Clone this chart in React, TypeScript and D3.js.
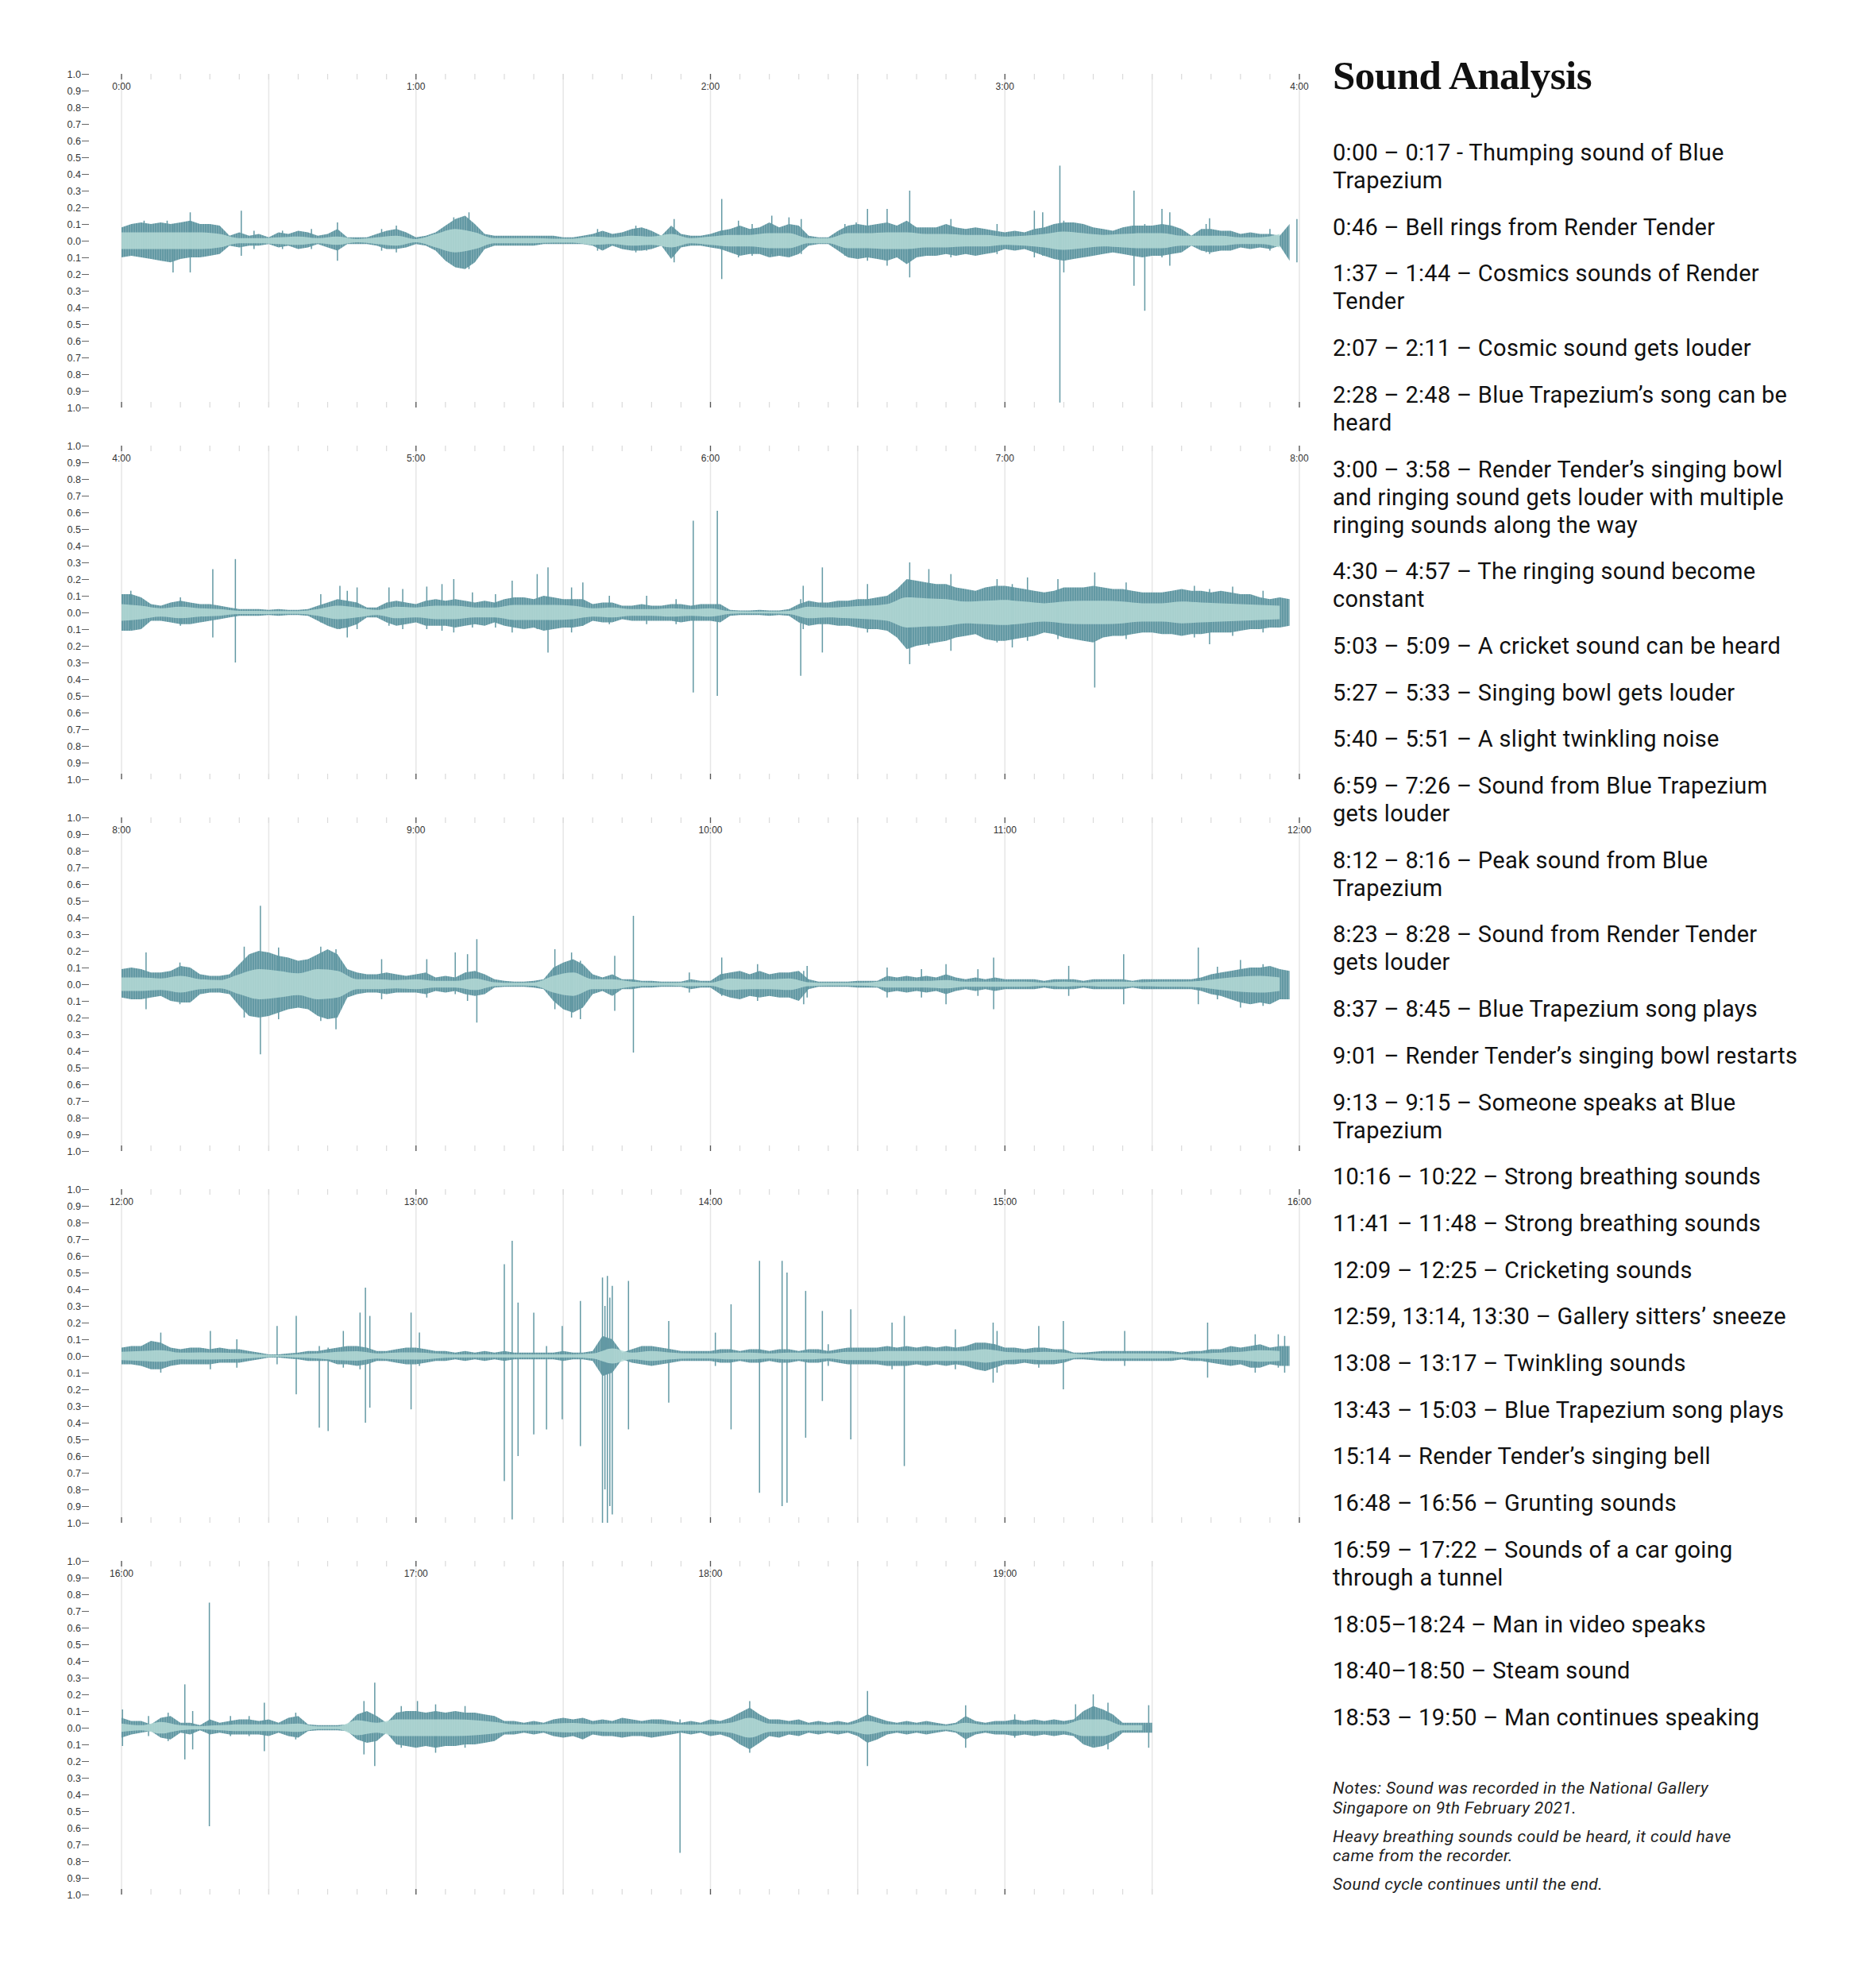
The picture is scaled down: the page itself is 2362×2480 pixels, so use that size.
import React, { useEffect, useRef } from "react";
import * as d3 from "d3";

// Waveform envelopes, one value per 2 s bin (peaks) or 4 s bin (rms)
const PEAK_STEP = 2;
const RMS_STEP = 4;

// 0:00 - 4:00
const p1Up = [
  0.08, 0.1, 0.11, 0.1, 0.11, 0.1, 0.11, 0.12, 0.1, 0.1, 0.09, 0.03, 0.05, 0.03, 0.04,
  0.02, 0.05, 0.04, 0.06, 0.05, 0.03, 0.04, 0.07, 0.02, 0.02, 0.02, 0.04, 0.06, 0.07, 0.05,
  0.02, 0.03, 0.05, 0.09, 0.13, 0.15, 0.1, 0.04, 0.03, 0.03, 0.03, 0.03, 0.03, 0.03, 0.03,
  0.02, 0.02, 0.03, 0.04, 0.06, 0.04, 0.05, 0.07, 0.08, 0.06, 0.03, 0.09, 0.04, 0.03, 0.03,
  0.04, 0.06, 0.07, 0.09, 0.07, 0.08, 0.11, 0.08, 0.1, 0.09, 0.03, 0.02, 0.02, 0.06, 0.09,
  0.1, 0.09, 0.1, 0.11, 0.09, 0.12, 0.08, 0.08, 0.08, 0.1, 0.08, 0.07, 0.08, 0.07, 0.06,
  0.05, 0.06, 0.05, 0.07, 0.08, 0.1, 0.11, 0.11, 0.1, 0.08, 0.07, 0.06, 0.08, 0.09, 0.09,
  0.09, 0.1, 0.09, 0.07, 0.03, 0.07, 0.07, 0.06, 0.06, 0.04, 0.05, 0.04, 0.04, 0.03, 0.1,
];
const p1Dn = [
  0.1, 0.09, 0.1, 0.11, 0.12, 0.13, 0.11, 0.1, 0.1, 0.09, 0.08, 0.03, 0.04, 0.03, 0.03,
  0.02, 0.04, 0.03, 0.05, 0.04, 0.02, 0.04, 0.06, 0.02, 0.02, 0.02, 0.03, 0.05, 0.05, 0.04,
  0.02, 0.03, 0.06, 0.12, 0.16, 0.17, 0.13, 0.05, 0.03, 0.03, 0.03, 0.03, 0.03, 0.02, 0.02,
  0.02, 0.02, 0.02, 0.03, 0.06, 0.03, 0.05, 0.06, 0.06, 0.05, 0.03, 0.11, 0.04, 0.03, 0.03,
  0.04, 0.05, 0.07, 0.09, 0.08, 0.08, 0.1, 0.09, 0.1, 0.08, 0.03, 0.02, 0.02, 0.06, 0.1,
  0.11, 0.1, 0.11, 0.12, 0.1, 0.14, 0.1, 0.09, 0.09, 0.08, 0.09, 0.08, 0.09, 0.08, 0.07,
  0.05, 0.06, 0.05, 0.07, 0.09, 0.11, 0.12, 0.11, 0.1, 0.09, 0.08, 0.07, 0.08, 0.09, 0.1,
  0.09, 0.09, 0.08, 0.07, 0.03, 0.06, 0.07, 0.06, 0.06, 0.04, 0.05, 0.04, 0.05, 0.03, 0.12,
];
const p1Rms = [
  0.05, 0.05, 0.05, 0.05, 0.05, 0.04, 0.015, 0.015, 0.02, 0.025, 0.015, 0.025, 0.01, 0.02, 0.03,
  0.01, 0.04, 0.07, 0.05, 0.015, 0.015, 0.015, 0.012, 0.012, 0.025, 0.02, 0.03, 0.025, 0.04, 0.015,
  0.025, 0.035, 0.035, 0.045, 0.045, 0.015, 0.015, 0.045, 0.045, 0.05, 0.05, 0.04, 0.04, 0.035, 0.035,
  0.025, 0.03, 0.04, 0.055, 0.045, 0.035, 0.04, 0.045, 0.045, 0.03, 0.03, 0.03, 0.02, 0.02, 0.04,
];
// isolated peaks poking out of the envelope: [seconds, up, down]
const p1Spikes = [
  [4.6, 0.12, 0.1], [9.3, 0.12, 0.11], [10.5, 0.1, 0.19], [14, 0.17, 0.19],
  [24.4, 0.18, 0.09], [27, 0.06, 0.05], [32.8, 0.06, 0.05], [38.7, 0.07, 0.05],
  [44, 0.11, 0.12], [53, 0.07, 0.06], [56, 0.09, 0.07], [67.7, 0.14, 0.12],
  [70.8, 0.17, 0.17], [97, 0.07, 0.06], [104.8, 0.09, 0.07], [107, 0.07, 0.06],
  [112.6, 0.13, 0.13], [122.3, 0.25, 0.23], [125.7, 0.12, 0.1], [128.5, 0.1, 0.09],
  [132.5, 0.15, 0.08], [136, 0.14, 0.09], [138.5, 0.13, 0.08], [147.4, 0.1, 0.09],
  [149.7, 0.11, 0.1], [152, 0.19, 0.12], [156, 0.19, 0.15], [160.6, 0.3, 0.22],
  [169, 0.13, 0.1], [178.4, 0.1, 0.08], [186, 0.18, 0.1], [187.7, 0.17, 0.09],
  [191.2, 0.45, 0.97], [192, 0.12, 0.19], [206.3, 0.3, 0.27], [208.5, 0.1, 0.42],
  [212, 0.19, 0.1], [213.6, 0.17, 0.15], [221, 0.1, 0.07], [221.7, 0.135, 0.08],
  [234, 0.07, 0.06], [239.5, 0.13, 0.13],
];

// 4:00 - 8:00
const p2Up = [
  0.11, 0.11, 0.09, 0.05, 0.04, 0.06, 0.07, 0.06, 0.05, 0.05, 0.04, 0.03, 0.02, 0.02, 0.02,
  0.015, 0.02, 0.015, 0.015, 0.02, 0.04, 0.06, 0.08, 0.07, 0.06, 0.03, 0.03, 0.06, 0.07, 0.06,
  0.05, 0.07, 0.08, 0.07, 0.08, 0.07, 0.06, 0.07, 0.06, 0.08, 0.09, 0.09, 0.08, 0.1, 0.09,
  0.08, 0.08, 0.08, 0.05, 0.06, 0.06, 0.04, 0.04, 0.05, 0.04, 0.04, 0.05, 0.05, 0.04, 0.05,
  0.05, 0.05, 0.015, 0.012, 0.012, 0.015, 0.012, 0.012, 0.02, 0.05, 0.07, 0.06, 0.06, 0.07, 0.07,
  0.08, 0.08, 0.09, 0.1, 0.14, 0.2, 0.19, 0.18, 0.17, 0.17, 0.15, 0.14, 0.13, 0.15, 0.16,
  0.16, 0.15, 0.14, 0.13, 0.12, 0.13, 0.15, 0.15, 0.15, 0.16, 0.15, 0.14, 0.14, 0.13, 0.12,
  0.12, 0.12, 0.13, 0.14, 0.13, 0.13, 0.12, 0.13, 0.12, 0.11, 0.11, 0.09, 0.08, 0.09, 0.08,
];
const p2Dn = [
  0.11, 0.11, 0.1, 0.05, 0.05, 0.06, 0.07, 0.07, 0.06, 0.05, 0.04, 0.03, 0.02, 0.02, 0.02,
  0.015, 0.02, 0.015, 0.015, 0.02, 0.05, 0.08, 0.1, 0.09, 0.07, 0.03, 0.03, 0.06, 0.08, 0.07,
  0.06, 0.08, 0.08, 0.08, 0.09, 0.08, 0.07, 0.08, 0.06, 0.08, 0.09, 0.1, 0.09, 0.11, 0.1,
  0.09, 0.09, 0.08, 0.05, 0.06, 0.06, 0.04, 0.05, 0.05, 0.05, 0.05, 0.05, 0.06, 0.05, 0.05,
  0.05, 0.06, 0.02, 0.015, 0.015, 0.015, 0.02, 0.015, 0.02, 0.06, 0.08, 0.07, 0.07, 0.08, 0.08,
  0.09, 0.1, 0.1, 0.11, 0.15, 0.22, 0.2, 0.19, 0.18, 0.17, 0.15, 0.14, 0.13, 0.16, 0.17,
  0.17, 0.16, 0.15, 0.14, 0.12, 0.13, 0.15, 0.16, 0.17, 0.18, 0.15, 0.14, 0.14, 0.13, 0.12,
  0.12, 0.13, 0.13, 0.14, 0.13, 0.13, 0.12, 0.12, 0.12, 0.11, 0.1, 0.1, 0.09, 0.09, 0.08,
];
const p2Rms = [
  0.05, 0.04, 0.025, 0.035, 0.025, 0.02, 0.01, 0.01, 0.008, 0.008, 0.02, 0.04, 0.03, 0.015, 0.035,
  0.03, 0.04, 0.04, 0.03, 0.03, 0.045, 0.045, 0.045, 0.04, 0.025, 0.03, 0.02, 0.02, 0.025, 0.02,
  0.025, 0.008, 0.006, 0.006, 0.01, 0.035, 0.03, 0.035, 0.04, 0.05, 0.09, 0.085, 0.08, 0.065, 0.07,
  0.075, 0.065, 0.055, 0.065, 0.07, 0.07, 0.065, 0.055, 0.055, 0.065, 0.06, 0.055, 0.05, 0.045, 0.04,
];
const p2Spikes = [
  [1.9, 0.13, 0.1], [12, 0.09, 0.08], [18.6, 0.26, 0.15], [23.2, 0.32, 0.3],
  [40.6, 0.11, 0.06], [44.5, 0.16, 0.1], [46, 0.13, 0.15], [48, 0.15, 0.1],
  [54.5, 0.15, 0.08], [57.3, 0.14, 0.1], [62.2, 0.155, 0.1], [65.3, 0.17, 0.11],
  [67.7, 0.2, 0.12], [71.5, 0.12, 0.09], [76.2, 0.11, 0.09], [79.6, 0.19, 0.12],
  [84.7, 0.23, 0.1], [86.9, 0.27, 0.24], [91.7, 0.15, 0.12], [94, 0.18, 0.08],
  [99.4, 0.1, 0.07], [107, 0.1, 0.07], [113, 0.08, 0.07], [116.5, 0.55, 0.48],
  [121.4, 0.61, 0.5], [138.4, 0.08, 0.38], [138.9, 0.16, 0.1], [142.8, 0.27, 0.24],
  [152, 0.17, 0.12], [160.6, 0.3, 0.31], [164.5, 0.26, 0.2], [169, 0.23, 0.23],
  [178.4, 0.2, 0.18], [181.5, 0.17, 0.21], [184.6, 0.21, 0.17], [190.8, 0.2, 0.16],
  [198.3, 0.24, 0.45], [204.7, 0.18, 0.16], [218.6, 0.16, 0.15], [221.7, 0.14, 0.19],
  [226.4, 0.155, 0.14], [232.6, 0.13, 0.12],
];

// 8:00 - 12:00
const p3Up = [
  0.09, 0.1, 0.09, 0.07, 0.07, 0.08, 0.11, 0.1, 0.06, 0.05, 0.05, 0.06, 0.12, 0.18, 0.2,
  0.19, 0.17, 0.16, 0.14, 0.15, 0.18, 0.21, 0.18, 0.09, 0.07, 0.06, 0.06, 0.07, 0.06, 0.05,
  0.06, 0.07, 0.04, 0.05, 0.04, 0.07, 0.08, 0.06, 0.03, 0.02, 0.015, 0.015, 0.02, 0.03, 0.1,
  0.13, 0.15, 0.12, 0.06, 0.04, 0.06, 0.03, 0.03, 0.02, 0.02, 0.015, 0.015, 0.015, 0.03, 0.02,
  0.02, 0.06, 0.07, 0.08, 0.06, 0.08, 0.06, 0.07, 0.07, 0.08, 0.03, 0.015, 0.015, 0.015, 0.015,
  0.02, 0.02, 0.02, 0.05, 0.04, 0.05, 0.04, 0.05, 0.04, 0.06, 0.04, 0.03, 0.04, 0.03, 0.04,
  0.03, 0.03, 0.03, 0.03, 0.02, 0.03, 0.03, 0.03, 0.02, 0.03, 0.03, 0.03, 0.03, 0.02, 0.03,
  0.03, 0.03, 0.03, 0.03, 0.03, 0.04, 0.06, 0.07, 0.08, 0.09, 0.1, 0.1, 0.11, 0.09, 0.08,
];
const p3Dn = [
  0.08, 0.09, 0.09, 0.08, 0.07, 0.1, 0.11, 0.11, 0.06, 0.05, 0.05, 0.06, 0.13, 0.19, 0.2,
  0.19, 0.17, 0.15, 0.14, 0.15, 0.19, 0.21, 0.2, 0.08, 0.06, 0.05, 0.05, 0.06, 0.05, 0.05,
  0.05, 0.06, 0.04, 0.05, 0.04, 0.06, 0.07, 0.06, 0.02, 0.015, 0.015, 0.015, 0.02, 0.03, 0.1,
  0.15, 0.17, 0.14, 0.06, 0.04, 0.07, 0.03, 0.03, 0.02, 0.02, 0.015, 0.015, 0.015, 0.03, 0.02,
  0.02, 0.06, 0.08, 0.09, 0.07, 0.08, 0.07, 0.08, 0.08, 0.1, 0.03, 0.015, 0.015, 0.015, 0.015,
  0.02, 0.02, 0.02, 0.05, 0.04, 0.05, 0.04, 0.05, 0.04, 0.06, 0.04, 0.03, 0.04, 0.03, 0.04,
  0.03, 0.03, 0.03, 0.03, 0.02, 0.03, 0.03, 0.03, 0.02, 0.03, 0.03, 0.03, 0.03, 0.02, 0.03,
  0.03, 0.03, 0.03, 0.03, 0.03, 0.04, 0.06, 0.07, 0.09, 0.11, 0.12, 0.11, 0.12, 0.09, 0.09,
];
const p3Rms = [
  0.04, 0.04, 0.035, 0.05, 0.03, 0.025, 0.06, 0.09, 0.08, 0.065, 0.09, 0.08, 0.03, 0.03, 0.025,
  0.03, 0.02, 0.02, 0.035, 0.012, 0.008, 0.01, 0.05, 0.07, 0.03, 0.03, 0.015, 0.01, 0.008, 0.012,
  0.01, 0.035, 0.03, 0.03, 0.035, 0.012, 0.008, 0.008, 0.01, 0.02, 0.02, 0.02, 0.025, 0.015, 0.015,
  0.015, 0.015, 0.01, 0.015, 0.01, 0.015, 0.015, 0.012, 0.015, 0.015, 0.02, 0.035, 0.045, 0.05, 0.04,
];
const p3Spikes = [
  [5, 0.19, 0.15], [11.9, 0.13, 0.12], [25, 0.225, 0.2], [28.3, 0.47, 0.42],
  [32, 0.22, 0.21], [40.6, 0.225, 0.22], [43.7, 0.21, 0.27], [53, 0.15, 0.09],
  [62.2, 0.15, 0.08], [68, 0.19, 0.06], [70.5, 0.18, 0.1], [72.4, 0.27, 0.23],
  [88.3, 0.21, 0.15], [91.7, 0.19, 0.2], [93.5, 0.14, 0.21], [100.5, 0.17, 0.16],
  [104.3, 0.41, 0.41], [115.7, 0.07, 0.05], [122.3, 0.16, 0.07], [129.6, 0.12, 0.1],
  [139, 0.08, 0.12], [139.7, 0.11, 0.08], [156, 0.1, 0.08], [163, 0.09, 0.08],
  [168, 0.12, 0.12], [174.5, 0.09, 0.07], [177.7, 0.16, 0.15], [193, 0.11, 0.07],
  [204.2, 0.18, 0.12], [219.4, 0.22, 0.12], [223.3, 0.105, 0.09], [228, 0.145, 0.14],
  [232.6, 0.12, 0.13],
];

// 12:00 - 16:00
const p4Up = [
  0.05, 0.06, 0.06, 0.09, 0.08, 0.05, 0.04, 0.05, 0.05, 0.04, 0.05, 0.04, 0.04, 0.03, 0.02,
  0.01, 0.01, 0.015, 0.02, 0.03, 0.03, 0.04, 0.05, 0.06, 0.06, 0.05, 0.03, 0.03, 0.04, 0.05,
  0.05, 0.04, 0.03, 0.03, 0.02, 0.03, 0.02, 0.03, 0.02, 0.03, 0.02, 0.02, 0.02, 0.02, 0.02,
  0.03, 0.02, 0.02, 0.03, 0.12, 0.1, 0.02, 0.04, 0.06, 0.06, 0.05, 0.04, 0.03, 0.03, 0.03,
  0.03, 0.04, 0.04, 0.03, 0.04, 0.04, 0.03, 0.04, 0.04, 0.03, 0.04, 0.04, 0.03, 0.04, 0.05,
  0.05, 0.05, 0.05, 0.06, 0.05, 0.06, 0.05, 0.06, 0.05, 0.06, 0.05, 0.06, 0.08, 0.08, 0.07,
  0.05, 0.05, 0.04, 0.05, 0.05, 0.04, 0.04, 0.02, 0.02, 0.025, 0.03, 0.03, 0.03, 0.03, 0.03,
  0.03, 0.03, 0.03, 0.02, 0.03, 0.03, 0.04, 0.04, 0.06, 0.05, 0.06, 0.07, 0.05, 0.06, 0.06,
];
const p4Dn = [
  0.05, 0.05, 0.06, 0.08, 0.08, 0.06, 0.05, 0.05, 0.05, 0.05, 0.04, 0.04, 0.04, 0.03, 0.02,
  0.01, 0.01, 0.015, 0.02, 0.03, 0.03, 0.03, 0.05, 0.05, 0.06, 0.05, 0.03, 0.03, 0.04, 0.05,
  0.05, 0.04, 0.03, 0.03, 0.02, 0.03, 0.02, 0.03, 0.02, 0.03, 0.02, 0.02, 0.02, 0.02, 0.02,
  0.03, 0.02, 0.02, 0.03, 0.12, 0.1, 0.02, 0.04, 0.05, 0.06, 0.05, 0.04, 0.03, 0.03, 0.03,
  0.03, 0.04, 0.04, 0.03, 0.04, 0.04, 0.03, 0.04, 0.04, 0.03, 0.04, 0.04, 0.03, 0.04, 0.05,
  0.05, 0.05, 0.05, 0.06, 0.06, 0.06, 0.05, 0.06, 0.05, 0.06, 0.05, 0.06, 0.08, 0.09, 0.07,
  0.05, 0.05, 0.04, 0.05, 0.05, 0.05, 0.04, 0.02, 0.02, 0.025, 0.03, 0.03, 0.03, 0.03, 0.03,
  0.03, 0.03, 0.03, 0.02, 0.03, 0.03, 0.04, 0.05, 0.06, 0.05, 0.07, 0.07, 0.05, 0.06, 0.06,
];
const p4Rms = [
  0.025, 0.03, 0.035, 0.02, 0.022, 0.02, 0.018, 0.01, 0.005, 0.01, 0.015, 0.025, 0.028, 0.015, 0.02,
  0.022, 0.015, 0.01, 0.01, 0.01, 0.01, 0.01, 0.01, 0.01, 0.015, 0.045, 0.02, 0.03, 0.02, 0.015,
  0.015, 0.02, 0.02, 0.015, 0.02, 0.02, 0.015, 0.025, 0.025, 0.03, 0.03, 0.03, 0.03, 0.03, 0.04,
  0.025, 0.02, 0.025, 0.02, 0.01, 0.015, 0.015, 0.015, 0.015, 0.01, 0.015, 0.02, 0.025, 0.035, 0.03,
];
const p4Spikes = [
  [8, 0.14, 0.1], [18.1, 0.15, 0.08], [23.5, 0.1, 0.07], [31.7, 0.18, 0.05],
  [35.6, 0.24, 0.23], [40.3, 0.06, 0.43], [42.1, 0.05, 0.45], [45.2, 0.15, 0.07],
  [48.6, 0.26, 0.08], [49.7, 0.41, 0.4], [50.6, 0.24, 0.31], [59, 0.26, 0.32],
  [60.7, 0.14, 0.06], [78, 0.55, 0.75], [79.6, 0.69, 0.98], [80.8, 0.32, 0.6],
  [84, 0.26, 0.47], [86.6, 0.06, 0.44], [89.8, 0.18, 0.38], [93.5, 0.33, 0.54],
  [98, 0.47, 1.0], [98.5, 0.3, 0.8], [99, 0.48, 1.0], [99.5, 0.35, 0.9],
  [100, 0.42, 0.95], [103.3, 0.45, 0.44], [111.5, 0.21, 0.28], [121, 0.14, 0.06],
  [124.2, 0.31, 0.44], [130, 0.57, 0.82], [134.6, 0.57, 0.9], [135.6, 0.5, 0.88],
  [139.4, 0.39, 0.49], [142.8, 0.27, 0.27], [144, 0.07, 0.06], [148.6, 0.28, 0.5],
  [157, 0.2, 0.08], [159.5, 0.24, 0.66], [169.9, 0.16, 0.08], [177.6, 0.2, 0.16],
  [178.4, 0.15, 0.1], [186.9, 0.18, 0.07], [191.9, 0.21, 0.2], [204.4, 0.15, 0.06],
  [221.3, 0.2, 0.13], [231, 0.13, 0.1], [235.7, 0.13, 0.07], [237, 0.12, 0.1],
];

// 16:00 - 19:31
const p5Up = [
  0.06, 0.04, 0.04, 0.02, 0.06, 0.07, 0.03, 0.03, 0.015, 0.05, 0.03, 0.04, 0.05, 0.05, 0.04,
  0.05, 0.03, 0.06, 0.07, 0.02, 0.015, 0.015, 0.015, 0.02, 0.08, 0.1, 0.07, 0.03, 0.09, 0.1,
  0.1, 0.09, 0.1, 0.09, 0.1, 0.09, 0.09, 0.08, 0.07, 0.04, 0.04, 0.03, 0.04, 0.03, 0.05,
  0.06, 0.05, 0.06, 0.04, 0.05, 0.04, 0.06, 0.05, 0.04, 0.05, 0.05, 0.04, 0.03, 0.04, 0.03,
  0.05, 0.04, 0.06, 0.09, 0.12, 0.08, 0.05, 0.05, 0.04, 0.05, 0.03, 0.04, 0.03, 0.04, 0.03,
  0.05, 0.08, 0.06, 0.04, 0.03, 0.04, 0.03, 0.04, 0.03, 0.02, 0.03, 0.07, 0.04, 0.03, 0.04,
  0.04, 0.05, 0.04, 0.05, 0.04, 0.05, 0.04, 0.05, 0.1, 0.13, 0.11, 0.08, 0.03, 0.03, 0.03, 0.03,
];
const p5Dn = [
  0.06, 0.04, 0.03, 0.02, 0.06, 0.07, 0.03, 0.04, 0.015, 0.04, 0.03, 0.04, 0.04, 0.04, 0.04,
  0.05, 0.03, 0.05, 0.06, 0.02, 0.015, 0.015, 0.015, 0.02, 0.07, 0.09, 0.08, 0.03, 0.1, 0.11,
  0.12, 0.11, 0.12, 0.11, 0.11, 0.1, 0.1, 0.09, 0.08, 0.04, 0.04, 0.03, 0.04, 0.03, 0.05,
  0.06, 0.05, 0.07, 0.04, 0.05, 0.05, 0.06, 0.05, 0.05, 0.06, 0.05, 0.04, 0.03, 0.04, 0.03,
  0.05, 0.04, 0.06, 0.1, 0.13, 0.09, 0.05, 0.06, 0.04, 0.05, 0.03, 0.04, 0.03, 0.04, 0.03,
  0.05, 0.09, 0.07, 0.04, 0.03, 0.04, 0.03, 0.04, 0.03, 0.02, 0.03, 0.07, 0.04, 0.03, 0.04,
  0.04, 0.05, 0.04, 0.05, 0.04, 0.05, 0.04, 0.05, 0.1, 0.12, 0.11, 0.08, 0.03, 0.03, 0.03, 0.03,
];
const p5Rms = [
  0.025, 0.015, 0.035, 0.015, 0.01, 0.015, 0.02, 0.02, 0.02, 0.025, 0.008, 0.008, 0.045, 0.03, 0.05,
  0.05, 0.05, 0.05, 0.045, 0.035, 0.02, 0.018, 0.025, 0.028, 0.022, 0.025, 0.025, 0.025, 0.02, 0.018,
  0.022, 0.03, 0.06, 0.025, 0.022, 0.018, 0.018, 0.018, 0.04, 0.02, 0.018, 0.018, 0.012, 0.03, 0.018,
  0.02, 0.02, 0.02, 0.02, 0.05, 0.05, 0.015, 0.015,
];
const p5Spikes = [
  [0.2, 0.11, 0.11], [5.5, 0.07, 0.05], [9.5, 0.09, 0.08], [12.9, 0.26, 0.19],
  [14.5, 0.1, 0.13], [17.9, 0.75, 0.59], [22.2, 0.07, 0.05], [26, 0.07, 0.05],
  [29.1, 0.15, 0.14], [35.5, 0.09, 0.07], [49.4, 0.16, 0.16], [51.6, 0.27, 0.23],
  [57, 0.13, 0.12], [60.3, 0.16, 0.08], [64, 0.14, 0.15], [70, 0.13, 0.12],
  [113.8, 0.05, 0.75], [128, 0.16, 0.15], [152, 0.22, 0.23], [172, 0.135, 0.12],
  [182, 0.08, 0.06], [194.4, 0.14, 0.06], [198, 0.2, 0.1], [201, 0.15, 0.13],
  [209.3, 0.135, 0.12],
];

// start minute and length (s) of each row
const panelStartMin = [0, 4, 8, 12, 16];
const panelLength = [240, 240, 240, 240, 211];

const yTicks = [
  -1, -0.9, -0.8, -0.7, -0.6, -0.5, -0.4, -0.3, -0.2, -0.1, 0,
  0.1, 0.2, 0.3, 0.4, 0.5, 0.6, 0.7, 0.8, 0.9, 1,
];

const notesTitle = "Sound Analysis";
const events = [
  ["0:00 \u2013 0:17 - Thumping sound of Blue", "Trapezium"],
  ["0:46 \u2013 Bell rings from Render Tender"],
  ["1:37 \u2013 1:44 \u2013 Cosmics sounds of Render", "Tender"],
  ["2:07 \u2013 2:11 \u2013 Cosmic sound gets louder"],
  ["2:28 \u2013 2:48 \u2013 Blue Trapezium\u2019s song can be", "heard"],
  [
    "3:00 \u2013 3:58 \u2013 Render Tender\u2019s singing bowl",
    "and ringing sound gets louder with multiple",
    "ringing sounds along the way",
  ],
  ["4:30 \u2013 4:57 \u2013 The ringing sound become", "constant"],
  ["5:03 \u2013 5:09 \u2013 A cricket sound can be heard"],
  ["5:27 \u2013 5:33 \u2013 Singing bowl gets louder"],
  ["5:40 \u2013 5:51 \u2013 A slight twinkling noise"],
  ["6:59 \u2013 7:26 \u2013 Sound from Blue Trapezium", "gets louder"],
  ["8:12 \u2013 8:16 \u2013 Peak sound from Blue", "Trapezium"],
  ["8:23 \u2013 8:28 \u2013 Sound from Render Tender", "gets louder"],
  ["8:37 \u2013 8:45 \u2013 Blue Trapezium song plays"],
  ["9:01 \u2013 Render Tender\u2019s singing bowl restarts"],
  ["9:13 \u2013 9:15 \u2013 Someone speaks at Blue", "Trapezium"],
  ["10:16 \u2013 10:22 \u2013 Strong breathing sounds"],
  ["11:41 \u2013 11:48 \u2013 Strong breathing sounds"],
  ["12:09 \u2013 12:25 \u2013 Cricketing sounds"],
  ["12:59, 13:14, 13:30 \u2013 Gallery sitters\u2019 sneeze"],
  ["13:08 \u2013 13:17 \u2013 Twinkling sounds"],
  ["13:43 \u2013 15:03 \u2013 Blue Trapezium song plays"],
  ["15:14 \u2013 Render Tender\u2019s singing bell"],
  ["16:48 \u2013 16:56 \u2013 Grunting sounds"],
  ["16:59 \u2013 17:22 \u2013 Sounds of a car going", "through a tunnel"],
  ["18:05\u201318:24 \u2013 Man in video speaks"],
  ["18:40\u201318:50 \u2013 Steam sound"],
  ["18:53 \u2013 19:50 \u2013 Man continues speaking"],
];
const footNotes = [
  ["Notes: Sound was recorded in the National Gallery", "Singapore on 9th February 2021."],
  ["Heavy breathing sounds could be heard, it could have", "came from the recorder."],
  ["Sound cycle continues until the end."],
];

const panels = [
  { up: p1Up, dn: p1Dn, rms: p1Rms, spikes: p1Spikes },
  { up: p2Up, dn: p2Dn, rms: p2Rms, spikes: p2Spikes },
  { up: p3Up, dn: p3Dn, rms: p3Rms, spikes: p3Spikes },
  { up: p4Up, dn: p4Dn, rms: p4Rms, spikes: p4Spikes },
  { up: p5Up, dn: p5Dn, rms: p5Rms, spikes: p5Spikes },
];

const W = 2362;
const H = 2480;
const PANEL_TOP = 93;
const PANEL_H = 420;
const PANEL_STEP = 468;
const AXIS_FONT = "'Liberation Sans', Arial, sans-serif";
const TEXT_FONT = "Roboto, 'Noto Sans', sans-serif";

const DARK = "#6399a4";
const LIGHT = "#b4d9d6";

const App: React.FC = () => {
  const svgRef = useRef<SVGSVGElement>(null);

  useEffect(() => {
    const svg = d3.select(svgRef.current);
    svg.selectAll("*").remove();

    // fine vertical hatching so the filled envelope reads like a dense waveform
    const defs = svg.append("defs");
    const pat = defs
      .append("pattern")
      .attr("id", "wave-hatch")
      .attr("patternUnits", "userSpaceOnUse")
      .attr("width", 3)
      .attr("height", 10);
    pat.append("rect").attr("width", 3).attr("height", 10).attr("fill", DARK);
    pat.append("rect").attr("x", 2).attr("width", 1).attr("height", 10).attr("fill", "#82adb5");

    // one time scale shared by every row: 4 minutes across
    const x = d3.scaleLinear().domain([0, 240]).range([153, 1636]);

    panels.forEach((p, k) => {
      const top = PANEL_TOP + k * PANEL_STEP;
      const bottom = top + PANEL_H;
      const len = panelLength[k];
      const y = d3.scaleLinear().domain([-1, 1]).range([bottom, top]);
      const g = svg.append("g");

      // gridlines every 30 s
      g.selectAll(".grid")
        .data(d3.range(0, len + 0.01, 30))
        .enter()
        .append("line")
        .attr("x1", (d) => x(d))
        .attr("x2", (d) => x(d))
        .attr("y1", top)
        .attr("y2", bottom)
        .attr("stroke", "#e6e6e6")
        .attr("stroke-width", 1.5);

      // minor ticks every 6 s, top and bottom
      const minor = d3.range(6, len + 0.01, 6).filter((d) => d % 60 !== 0);
      [top, bottom - 7].forEach((y0) => {
        g.append("g")
          .selectAll("line")
          .data(minor)
          .enter()
          .append("line")
          .attr("x1", (d) => x(d))
          .attr("x2", (d) => x(d))
          .attr("y1", y0)
          .attr("y2", y0 + 7)
          .attr("stroke", "#dadada")
          .attr("stroke-width", 1.2);
      });

      // waveform peaks
      const peaks = p.up.map((u, i) => ({ t: i * PEAK_STEP, u, d: p.dn[i] }));
      const peakArea = d3
        .area<{ t: number; u: number; d: number }>()
        .x((d) => x(d.t))
        .y0((d) => y(-d.d))
        .y1((d) => y(d.u))
        .curve(d3.curveLinear);
      g.append("path").attr("d", peakArea(peaks)).attr("fill", "url(#wave-hatch)");

      // isolated spikes
      g.selectAll(".spike")
        .data(p.spikes)
        .enter()
        .append("line")
        .attr("x1", (d) => x(d[0]))
        .attr("x2", (d) => x(d[0]))
        .attr("y1", (d) => y(d[1]))
        .attr("y2", (d) => y(-d[2]))
        .attr("stroke", DARK)
        .attr("stroke-width", 1.5);

      // rms band
      const rms = p.rms.map((r, i) => ({ t: i * RMS_STEP, r }));
      const rmsArea = d3
        .area<{ t: number; r: number }>()
        .x((d) => x(d.t))
        .y0((d) => y(-d.r))
        .y1((d) => y(d.r))
        .curve(d3.curveMonotoneX);
      g.append("path").attr("d", rmsArea(rms)).attr("fill", LIGHT).attr("opacity", 0.85);

      // minute ticks and labels
      const minutes = d3.range(0, len + 0.01, 60);
      [top, bottom - 7].forEach((y0) => {
        g.append("g")
          .selectAll("line")
          .data(minutes)
          .enter()
          .append("line")
          .attr("x1", (d) => x(d))
          .attr("x2", (d) => x(d))
          .attr("y1", y0)
          .attr("y2", y0 + 7)
          .attr("stroke", "#555")
          .attr("stroke-width", 1.3);
      });
      g.append("g")
        .selectAll("text")
        .data(minutes)
        .enter()
        .append("text")
        .attr("x", (d) => x(d))
        .attr("y", top + 20)
        .attr("text-anchor", "middle")
        .attr("font-family", AXIS_FONT)
        .attr("font-size", 12)
        .attr("fill", "#333")
        .text((d) => `${panelStartMin[k] + d / 60}:00`);

      // amplitude axis
      const yAxis = d3
        .axisLeft(y)
        .tickValues(yTicks)
        .tickFormat((d) => Math.abs(+d).toFixed(1))
        .tickSize(9)
        .tickPadding(1);
      const ya = g.append("g").attr("transform", "translate(112,0)").call(yAxis);
      ya.select(".domain").remove();
      ya.selectAll("line").attr("stroke", "#666").attr("stroke-width", 1);
      ya.selectAll("text")
        .attr("font-family", AXIS_FONT)
        .attr("font-size", 12.5)
        .attr("fill", "#333");
    });

    // right-hand notes
    const tx = 1678;
    svg
      .append("text")
      .attr("x", tx)
      .attr("y", 112)
      .attr("font-family", "'Liberation Serif', 'DejaVu Serif', serif")
      .attr("font-weight", 700)
      .attr("font-size", 51)
      .attr("letter-spacing", -0.5)
      .attr("fill", "#111")
      .text(notesTitle);

    let base = 202;
    events.forEach((lines, i) => {
      if (i > 0) base += 58.7;
      lines.forEach((line, j) => {
        if (j > 0) base += 35;
        svg
          .append("text")
          .attr("x", tx)
          .attr("y", base)
          .attr("font-family", TEXT_FONT)
          .attr("font-size", 29)
          .attr("letter-spacing", 0.3)
          .attr("fill", "#111")
          .text(line);
      });
    });

    let nb = 2258;
    footNotes.forEach((lines, i) => {
      if (i > 0) nb += 36;
      lines.forEach((line, j) => {
        if (j > 0) nb += 24.5;
        svg
          .append("text")
          .attr("x", tx)
          .attr("y", nb)
          .attr("font-family", TEXT_FONT)
          .attr("font-style", "italic")
          .attr("font-size", 21)
          .attr("letter-spacing", 0.4)
          .attr("fill", "#222")
          .text(line);
      });
    });
  }, []);

  return (
    <div style={{ position: "absolute", left: 0, top: 0, background: "#fff" }}>
      <svg ref={svgRef} width={W} height={H} style={{ display: "block" }}></svg>
    </div>
  );
};

export default App;
